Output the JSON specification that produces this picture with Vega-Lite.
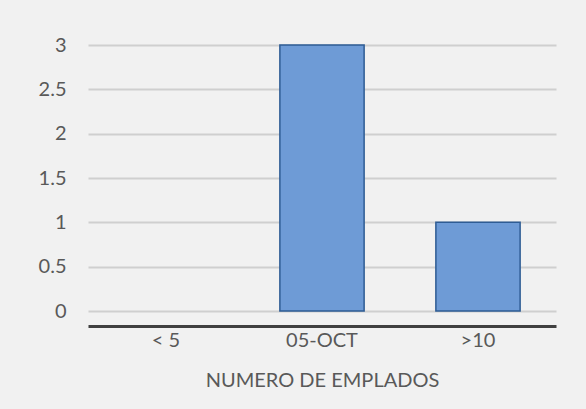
{
  "$schema": "https://vega.github.io/schema/vega-lite/v6.json",
  "autosize": "none",
  "width": 468,
  "height": 266,
  "padding": {"left": 88, "top": 45, "right": 30, "bottom": 98},
  "background": "#f1f1f1",
  "config": {
    "view": {"stroke": null},
    "font": "Lato"
  },
  "data": {
    "values": [
      {"categoria": "< 5", "valor": 0},
      {"categoria": "05-OCT", "valor": 3},
      {"categoria": ">10", "valor": 1}
    ]
  },
  "transform": [{"filter": "datum.valor > 0"}],
  "mark": {"type": "bar", "fill": "#6e9bd6", "stroke": "#2e5c94", "strokeWidth": 1.5},
  "encoding": {
    "x": {
      "field": "categoria",
      "type": "nominal",
      "sort": null,
      "scale": {"domain": ["< 5", "05-OCT", ">10"], "paddingInner": 0.46, "paddingOuter": 0.23},
      "axis": {
        "title": "NUMERO DE EMPLADOS",
        "labelAngle": 0,
        "labelFontSize": 20,
        "labelColor": "#595959",
        "labelPadding": 4,
        "titleFontSize": 20,
        "titleFontWeight": "normal",
        "titleColor": "#595959",
        "titlePadding": 20,
        "ticks": false,
        "offset": 15,
        "domainColor": "#404040",
        "domainWidth": 3
      }
    },
    "y": {
      "field": "valor",
      "type": "quantitative",
      "scale": {"domain": [0, 3]},
      "axis": {
        "title": null,
        "values": [0, 0.5, 1, 1.5, 2, 2.5, 3],
        "format": "~g",
        "labelFontSize": 20,
        "labelColor": "#595959",
        "labelPadding": 22,
        "ticks": false,
        "domain": false,
        "gridColor": "#cfcfcf",
        "gridWidth": 2
      }
    }
  }
}
